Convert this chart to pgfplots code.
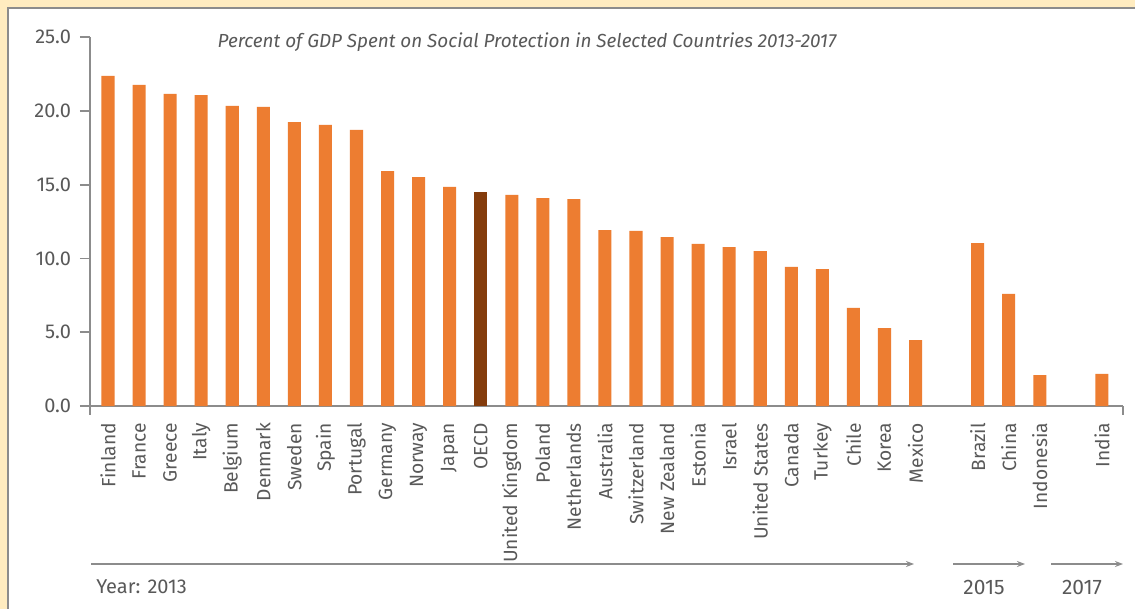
\documentclass[border=0pt]{standalone}
\usepackage{fontspec}
\setmainfont{Fira Sans}
\usepackage{pgfplots}
\pgfplotsset{compat=1.18}
\usetikzlibrary{arrows.meta}
\definecolor{cream}{HTML}{FFECC0}
\definecolor{barc}{HTML}{ED7D31}
\definecolor{oecd}{HTML}{843C0C}
\definecolor{txt}{HTML}{595959}
\definecolor{axisgray}{HTML}{8C8C8C}
\begin{document}
\begin{tikzpicture}[x=0.5pt,y=-0.5pt]
\fill[cream] (0,0) rectangle (1135,609);
\fill[white] (8,8) rectangle (1135,609);
\draw[axisgray, line width=0.6pt] (8,609) -- (8,8) -- (1135,8);
\begin{axis}[
  at={(45pt,-203pt)}, anchor=south west,
  scale only axis, width=516.5pt, height=184.5pt,
  xmin=-0.58, xmax=32.68, ymin=0, ymax=25,
  axis x line*=bottom, axis y line*=left,
  x axis line style={axisgray, line width=0.9pt, -},
  y axis line style={axisgray, line width=0.9pt, -},
  ytick={0,5,...,25},
  yticklabel style={/pgf/number format/fixed, /pgf/number format/precision=1, /pgf/number format/fixed zerofill, /pgf/number format/assume math mode=true, font=\fontsize{10}{11}\selectfont, xshift=-1pt},
  tick align=outside, major tick length=5pt,
  y tick style={axisgray, line width=0.9pt},
  x tick style={draw=none},
  xtick={0,1,...,26,28,29,30,32},
  xticklabels={Finland,France,Greece,Italy,Belgium,Denmark,Sweden,Spain,Portugal,Germany,Norway,Japan,OECD,United Kingdom,Poland,Netherlands,Australia,Switzerland,New Zealand,Estonia,Israel,United States,Canada,Turkey,Chile,Korea,Mexico,Brazil,China,Indonesia,India},
  xticklabel style={rotate=90, anchor=east, font=\fontsize{9.6}{10}\selectfont, yshift=0pt},
  tick label style={text=txt},
  clip=false,
]
\addplot[ybar, bar shift=0pt, bar width=0.42, fill=barc, draw=none] coordinates {
(0,22.36) (1,21.75) (2,21.14) (3,21.07) (4,20.33) (5,20.26) (6,19.24) (7,19.04) (8,18.70)
(9,15.92) (10,15.51) (11,14.84) (13,14.30) (14,14.09) (15,14.02) (16,11.92) (17,11.86)
(18,11.45) (19,10.98) (20,10.77) (21,10.50) (22,9.42) (23,9.28) (24,6.64) (25,5.28) (26,4.47)
(28,11.04) (29,7.59) (30,2.10) (32,2.17)
};
\addplot[ybar, bar shift=0pt, bar width=0.42, fill=oecd, draw=none] coordinates {(12,14.50)};
\draw[axisgray, line width=0.9pt] (axis cs:-0.58,0) -- (axis cs:-0.58,-0.61);
\draw[axisgray, line width=0.9pt] (axis cs:32.68,0) -- (axis cs:32.68,-0.61);
\end{axis}
\node[font=\itshape\fontsize{9.45}{10}\selectfont, text=txt] at (527,42) {Percent of GDP Spent on Social Protection in Selected Countries 2013-2017};
\draw[axisgray, line width=0.75pt, -{Stealth[length=4pt,width=3pt]}] (91,564) -- (914,564);
\draw[axisgray, line width=0.75pt, -{Stealth[length=4pt,width=3pt]}] (953,564) -- (1025,564);
\draw[axisgray, line width=0.75pt, -{Stealth[length=4pt,width=3pt]}] (1051,564) -- (1123,564);
\node[anchor=west, inner sep=0pt, font=\fontsize{10}{11}\selectfont, text=txt] at (96,587) {Year: 2013};
\node[font=\fontsize{10.5}{11}\selectfont, text=txt] at (984,587) {2015};
\node[font=\fontsize{10.5}{11}\selectfont, text=txt] at (1082,587) {2017};
\pgfresetboundingbox
\path (0,0) rectangle (1135,609);
\end{tikzpicture}
\end{document}
